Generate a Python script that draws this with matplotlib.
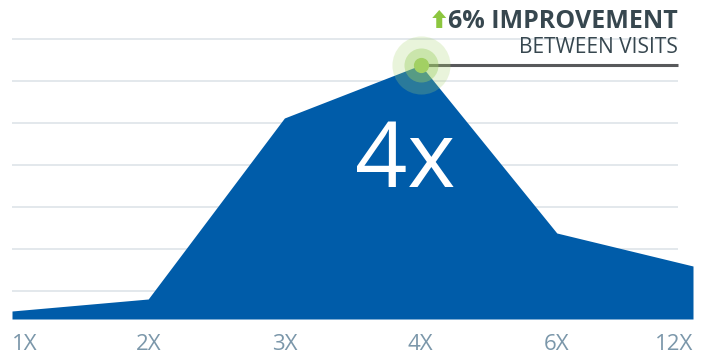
import matplotlib
matplotlib.use("Agg")
import matplotlib.pyplot as plt
from matplotlib.patches import FancyArrow
from matplotlib.transforms import IdentityTransform

# data
categories = ["1X", "2X", "3X", "4X", "6X", "12X"]
values = [8, 20, 201, 254, 86, 53]
grid_levels = [28, 70, 112, 154, 196, 238, 280]
peak_index = 3
headline = "6% IMPROVEMENT"
subline = "BETWEEN VISITS"
big_label = "4x"

W, H = 711, 354
plt.rcParams['font.family'] = ['Open Sans', 'DejaVu Sans']

fig = plt.figure(figsize=(W / 100, H / 100), dpi=100)
ax = fig.add_axes([12 / W, 35 / H, (693 - 12) / W, (319 - 39) / H])
x = list(range(len(categories)))

ax.set_xlim(0, len(categories) - 1)
ax.set_ylim(0, 280)

grid_end = (678 - 12) / (693 - 12) * (len(categories) - 1)
ax.hlines(grid_levels, 0, grid_end, color="#e1e6eb", lw=1.3, zorder=1, clip_on=False)

ax.fill_between(x, values, 0, color="#005ca9", lw=0, zorder=2)

# leader line to the annotation
ax.plot([x[peak_index], grid_end], [values[peak_index]] * 2, color="#58595b", lw=2.2,
        zorder=3, solid_capstyle="butt", clip_on=False)

# glowing dot at the peak
ax.scatter([x[peak_index]], [values[peak_index]], s=1750, color="#a8d472", alpha=0.25,
           lw=0, zorder=4, clip_on=False)
ax.scatter([x[peak_index]], [values[peak_index]], s=600, color="#9ccf63", alpha=0.4,
           lw=0, zorder=5, clip_on=False)
ax.scatter([x[peak_index]], [values[peak_index]], s=120, color="#a2d063",
           lw=0, zorder=6, clip_on=False)

ax.set_xticks(x)
ax.set_xticklabels(categories, fontsize=16, color="#7b97aa")
labels = ax.get_xticklabels()
labels[0].set_ha("left")
labels[-1].set_ha("right")
ax.tick_params(axis="x", length=0, pad=11)
ax.set_yticks([])
for s in ax.spines.values():
    s.set_visible(False)

fig.text(405 / W, 1 - 187 / H, big_label, color="white", fontsize=66,
         ha="center", va="baseline", zorder=10)

head = fig.text(678 / W, 1 - 28 / H, headline, color="#37474f", fontsize=18,
                fontweight="bold", ha="right", va="baseline")
fig.text(678 / W, 1 - 53 / H, subline, color="#37474f", fontsize=15,
         ha="right", va="baseline")

# green arrow just left of the headline
fig.canvas.draw()
bb = head.get_window_extent()
arrow_x = bb.x0 - 9
fig.patches.append(FancyArrow(arrow_x, H - 28, 0, 18, width=6, head_width=14, head_length=8,
                              length_includes_head=True, color="#8cc63f", lw=0,
                              transform=IdentityTransform()))

fig.savefig("out.png", dpi=100)
